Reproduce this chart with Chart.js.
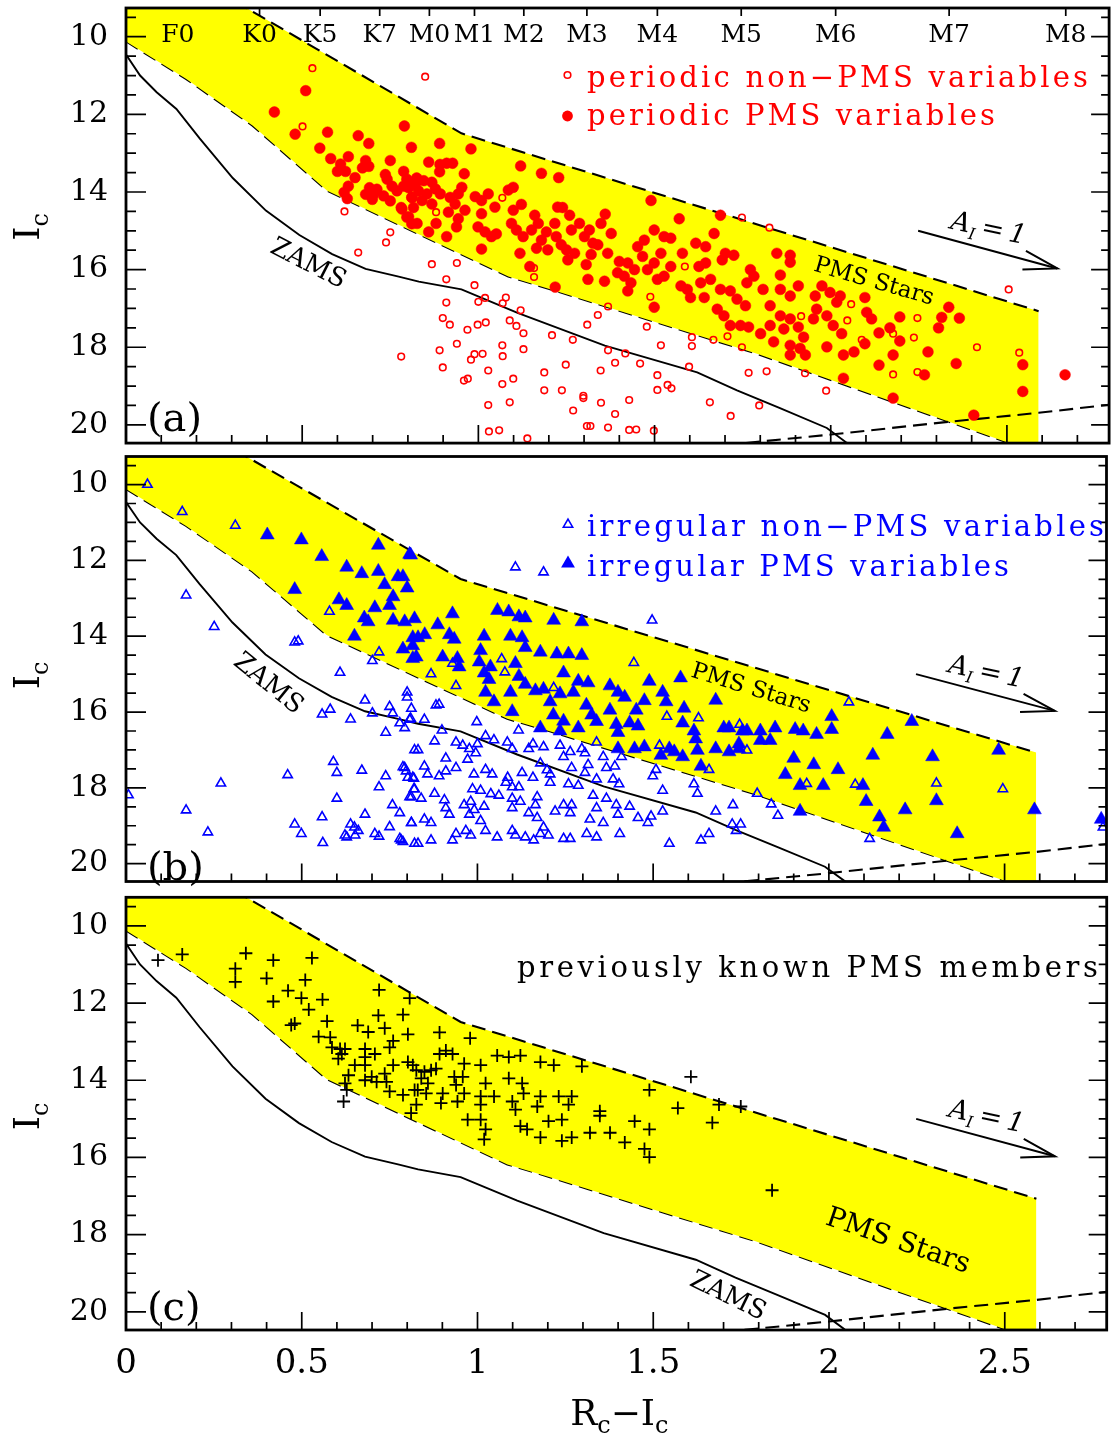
<!DOCTYPE html>
<html>
<head>
<meta charset="utf-8">
<script src="https://cdn.jsdelivr.net/npm/chart.js@4.4.1/dist/chart.umd.min.js"></script>
<style>
  body { margin: 0; background: #fff; }
  #wrap { position: relative; width: 1115px; height: 1437px; overflow: hidden; }
  canvas { position: absolute; left: 0; }
</style>
</head>
<body>
<div id="wrap">
  <canvas id="chart_a" width="1115" height="449" style="top:0px"></canvas>
  <canvas id="chart_b" width="1115" height="442" style="top:448px"></canvas>
  <canvas id="chart_c" width="1115" height="548" style="top:889px"></canvas>
</div>
<script>
// ---- axes ----
const xTickValues = [0, 0.5, 1, 1.5, 2, 2.5];
const xTickLabels = ['0', '0.5', '1', '1.5', '2', '2.5'];
const yTickValues = [10, 12, 14, 16, 18, 20];
const spectralTypes = ['F0', 'K0', 'K5', 'K7', 'M0', 'M1', 'M2', 'M3', 'M4', 'M5', 'M6', 'M7', 'M8'];
const spectralColours = [0.147, 0.379, 0.551, 0.720, 0.861, 0.989, 1.129, 1.308, 1.508, 1.746, 2.014, 2.336, 2.667];

// ---- curves (R-I, Ic) ----
const zams = [[0, 10.46], [0.04, 11.0], [0.087, 11.43], [0.143, 11.86], [0.209, 12.62], [0.303, 13.64], [0.397, 14.48],
  [0.492, 15.11], [0.585, 15.6], [0.68, 15.98], [0.774, 16.18], [0.831, 16.31], [0.952, 16.51], [1.113, 17.12],
  [1.359, 17.96], [1.621, 18.65], [1.734, 19.11], [1.856, 19.57], [1.989, 20.08], [2.045, 20.46], [2.12, 20.8]];
const bandUpper = [[0, 7.45], [0.952, 12.49], [2.59, 17.07]];
const bandLower = [[0, 10.12], [0.171, 11.09], [0.359, 12.29], [0.571, 13.97], [0.831, 15.09], [1.085, 16.18],
  [1.206, 16.51], [1.791, 18.17], [2.336, 19.92], [2.59, 20.74]];
const limitLine = [[1.70, 20.52], [2.0, 20.25], [2.336, 19.92], [2.59, 19.69], [2.79, 19.48]];
const reddeningLine = [[2.248, 15.0], [2.643, 15.97]];
const reddeningHead = [[2.554, 15.52], [2.643, 15.97], [2.544, 16.0]];

// ---- (a) periodic variables ----
const periodicNonPms = [[0.529,10.81],[0.501,12.31],[0.620,14.50],[0.750,15.04],[0.738,15.30],[0.659,15.56],[0.781,18.24],
  [0.849,11.03],[0.880,14.52],[1.068,14.15],[0.868,15.86],[0.939,15.83],[0.909,16.25],[0.989,16.40],[1.158,15.96],[1.158,16.19],
  [0.909,16.85],[1.000,16.83],[1.019,16.73],[1.078,16.72],[1.069,16.87],[1.120,17.05],[0.899,17.25],[0.919,17.42],[0.969,17.55],
  [0.998,17.42],[1.021,17.36],[1.089,17.31],[1.108,17.45],[1.128,17.64],[0.939,17.91],[0.890,18.08],[0.989,18.18],[1.012,18.17],
  [0.979,18.32],[1.068,17.95],[1.069,18.23],[1.128,18.05],[0.899,18.52],[1.028,18.60],[0.959,18.86],[0.970,18.81],[1.068,18.95],
  [1.099,18.81],[1.187,18.65],[1.187,19.11],[1.237,19.11],[1.089,19.42],[1.028,19.49],[1.030,20.17],[1.059,20.14],[1.139,20.35],
  [1.209,17.69],[1.268,17.81],[1.248,18.45],[1.269,19.63],[1.298,19.25],[1.298,19.31],[1.309,17.42],[1.339,17.17],[1.368,16.95],
  [1.368,18.08],[1.347,18.60],[1.388,18.40],[1.417,18.16],[1.348,19.43],[1.388,19.72],[1.308,20.03],[1.318,20.03],[1.368,20.07],
  [1.428,19.36],[1.428,20.13],[1.448,20.12],[1.459,18.42],[1.478,17.47],[1.488,16.70],[1.508,18.72],[1.508,19.10],[1.537,18.97],
  [1.548,19.06],[1.518,17.95],[1.498,20.15],[1.586,15.92],[1.606,17.74],[1.606,17.97],[1.598,18.50],[1.667,17.81],[1.707,17.72],
  [1.657,19.42],[1.716,19.77],[1.748,14.66],[1.748,18.00],[1.767,18.66],[1.826,14.92],[1.818,18.62],[1.927,18.67],[1.797,19.50],
  [1.987,19.12],[1.916,17.20],[2.058,16.89],[2.047,17.31],[2.088,17.81],[2.177,17.65],[2.177,18.70],[2.246,17.25],[2.236,17.75],
  [2.246,18.64],[2.415,18.00],[2.505,16.51],[2.535,18.14]];
const periodicPms = [[0.421,11.94],[0.510,11.39],[0.480,12.51],[0.572,12.46],[0.550,12.87],[0.581,13.14],[0.631,13.09],[0.659,12.55],
  [0.689,12.75],[0.609,13.28],[0.600,13.47],[0.623,13.47],[0.650,13.63],[0.631,13.85],[0.619,14.01],[0.628,14.17],[0.680,13.19],
  [0.671,13.38],[0.689,13.34],[0.680,14.06],[0.691,13.89],[0.703,14.06],[0.712,13.93],[0.699,14.19],[0.750,13.19],[0.736,13.55],
  [0.741,13.67],[0.790,12.30],[0.810,12.85],[0.788,13.47],[0.797,13.67],[0.755,13.85],[0.769,13.97],[0.731,14.10],[0.750,14.23],
  [0.781,14.40],[0.788,13.85],[0.802,13.89],[0.811,14.14],[0.816,14.40],[0.797,14.65],[0.811,14.82],[0.821,13.81],[0.825,13.64],
  [0.890,12.75],[0.979,12.89],[0.859,13.23],[0.891,13.29],[0.910,13.26],[0.927,13.26],[0.890,13.48],[0.960,13.53],[0.826,13.69],
  [0.845,13.71],[0.868,13.75],[0.878,13.92],[0.830,13.97],[0.854,14.05],[0.812,14.14],[0.840,14.22],[0.868,14.31],[0.892,14.05],
  [0.920,14.14],[0.953,13.88],[0.943,14.05],[0.934,14.31],[0.962,14.47],[0.915,14.52],[0.943,14.69],[0.938,14.90],[0.783,14.44],
  [0.802,14.64],[0.826,14.81],[0.859,15.03],[0.910,15.15],[0.880,14.81],[0.991,14.12],[1.009,14.22],[1.028,14.05],[1.047,14.39],
  [1.009,14.56],[0.999,14.90],[1.019,15.03],[1.037,15.15],[1.051,15.08],[1.009,15.47],[1.085,13.95],[1.099,13.88],[1.120,13.33],
  [1.179,13.52],[1.228,13.63],[1.099,14.47],[1.122,14.32],[1.094,14.81],[1.108,14.98],[1.127,15.15],[1.118,15.58],[1.151,14.98],
  [1.146,15.92],[1.160,14.60],[1.170,14.81],[1.165,15.45],[1.179,15.24],[1.197,15.49],[1.193,15.03],[1.217,14.81],[1.225,14.39],
  [1.239,14.40],[1.221,15.15],[1.235,15.36],[1.259,14.60],[1.264,14.98],[1.250,15.49],[1.254,15.75],[1.273,15.58],[1.287,14.81],
  [1.301,15.15],[1.315,14.98],[1.325,15.32],[1.306,15.87],[1.320,15.61],[1.339,15.36],[1.348,14.81],[1.360,14.57],[1.377,15.07],
  [1.367,15.58],[1.358,16.30],[1.311,16.25],[1.218,16.45],[1.400,15.79],[1.395,16.08],[1.424,15.83],[1.414,16.17],[1.433,16.34],
  [1.424,16.55],[1.443,16.00],[1.452,15.41],[1.471,15.24],[1.466,15.66],[1.490,14.22],[1.499,14.98],[1.480,16.00],[1.499,15.83],
  [1.518,15.58],[1.527,15.15],[1.546,15.19],[1.508,16.25],[1.527,16.17],[1.499,16.97],[1.546,15.92],[1.570,14.69],[1.579,15.58],
  [1.575,16.42],[1.593,16.51],[1.602,16.72],[1.617,15.32],[1.626,15.92],[1.631,16.34],[1.645,15.41],[1.645,15.83],[1.641,16.72],
  [1.659,16.25],[1.669,15.07],[1.678,17.02],[1.687,14.60],[1.692,15.75],[1.701,15.58],[1.725,15.63],[1.687,16.51],[1.715,16.55],
  [1.697,17.19],[1.715,17.44],[1.734,16.76],[1.744,17.44],[1.767,17.48],[1.762,16.34],[1.772,16.00],[1.758,16.93],
  [1.847,15.58],[1.885,15.63],[1.885,15.81],[1.857,16.14],[1.782,16.17],[1.808,16.51],[1.857,16.51],[1.885,16.68],[1.908,16.42],
  [1.828,16.93],[1.857,17.19],[1.885,17.27],[1.908,17.48],[1.867,17.53],[1.828,17.44],[1.801,17.65],[1.838,17.86],[1.885,17.95],
  [1.913,18.03],[1.923,17.74],[1.885,18.20],[1.928,18.20],[1.956,16.68],[1.960,17.02],[1.975,16.42],[1.951,17.27],[1.989,17.19],
  [1.998,16.59],[2.017,16.84],[2.027,16.68],[2.007,17.44],[2.031,17.65],[1.989,17.99],[2.036,18.20],[2.036,18.80],[2.066,18.12],
  [2.097,16.72],[2.102,17.10],[2.097,17.91],[2.116,17.27],[2.137,17.63],[2.168,17.50],[2.177,18.20],[2.196,17.22],[2.196,17.84],
  [2.137,18.46],[2.177,19.31],[2.266,18.71],[2.276,18.12],[2.306,17.50],[2.315,17.23],[2.335,16.97],[2.365,17.25],[2.356,18.42],
  [2.406,19.75],[2.545,18.45],[2.545,19.14],[2.665,18.71]];

// ---- (b) irregular variables ----
const irregularNonPms = [[0.061,10.00],[0.160,10.72],[0.311,11.08],[0.171,12.92],[0.251,13.75],[0.007,18.19],[0.171,18.59],
  [0.233,19.17],[0.270,17.88],[0.460,17.66],[0.480,14.16],[0.490,14.13],[0.579,13.35],[0.720,14.42],[0.701,14.65],[0.609,14.96],
  [0.558,16.06],[0.581,15.93],[0.639,16.19],[0.680,15.69],[0.701,16.03],[0.750,15.86],[0.759,16.03],[0.800,15.48],[0.800,15.61],
  [0.812,15.91],[0.807,16.20],[0.779,16.29],[0.793,16.42],[0.739,16.54],[0.821,17.00],[0.590,17.31],[0.600,17.60],[0.671,17.54],
  [0.739,17.69],[0.788,17.45],[0.797,17.56],[0.802,17.73],[0.819,17.75],[0.720,17.98],[0.600,18.28],[0.819,18.03],[0.807,18.24],
  [0.758,18.45],[0.779,18.66],[0.680,18.70],[0.558,18.77],[0.480,18.96],[0.499,19.21],[0.560,19.45],[0.623,19.25],[0.639,18.96],
  [0.650,19.04],[0.661,19.13],[0.628,19.30],[0.652,19.25],[0.708,19.21],[0.720,19.28],[0.750,19.03],[0.812,18.92],[0.779,19.34],
  [0.788,19.42],[0.821,19.47],
  [1.108,12.18],[1.188,12.31],[1.497,13.58],[1.445,14.70],[1.069,14.60],[1.078,14.95],[0.929,14.72],[0.868,15.00],[0.939,15.31],
  [1.217,15.36],[0.882,15.82],[0.891,15.80],[0.810,16.17],[0.849,16.20],[0.998,16.26],[0.899,16.48],[1.023,16.63],[1.047,16.74],
  [1.117,16.48],[0.878,16.77],[0.939,16.80],[0.958,16.88],[0.977,16.97],[1.000,16.84],[0.972,17.25],[0.831,17.00],[0.910,17.22],
  [0.939,17.47],[0.995,17.08],[1.085,16.80],[1.099,16.97],[1.146,16.97],[1.158,16.84],[1.188,16.92],[1.235,16.88],[1.264,17.05],
  [1.297,16.97],[1.306,17.08],[1.339,16.80],[1.358,17.18],[1.410,17.18],[1.179,17.35],[1.198,17.53],[1.245,17.18],[1.268,17.47],
  [1.315,17.39],[1.306,17.60],[1.367,17.47],[1.391,17.43],[1.386,17.77],[1.403,17.90],[1.339,17.77],[1.287,17.94],[1.259,17.90],
  [1.207,17.64],[1.207,17.86],[0.793,17.47],[0.816,17.73],[0.849,17.43],[0.858,17.64],[0.891,17.69],[0.910,17.56],[0.990,17.64],
  [1.023,17.52],[1.042,17.64],[1.086,17.73],[1.081,17.86],[1.127,17.60],[1.158,17.73],[1.099,17.98],[1.118,17.98],[1.038,18.16],
  [1.009,18.07],[0.986,18.03],[0.821,18.03],[0.840,18.28],[0.878,18.15],[0.812,18.24],[0.906,18.32],[0.962,18.45],[0.981,18.36],
  [1.019,18.49],[1.061,18.20],[1.099,18.28],[1.122,18.36],[1.170,18.24],[1.165,18.45],[1.146,18.66],[1.221,18.62],[1.245,18.45],
  [1.268,18.45],[1.264,18.66],[1.329,18.20],[1.367,18.28],[1.339,18.53],[1.395,18.45],[1.400,18.70],[1.433,18.49],[1.457,18.79],
  [1.494,18.75],[1.485,18.92],[1.527,18.62],[1.616,17.90],[1.626,18.15],[1.508,17.52],[1.499,17.69],[1.527,18.07],[1.659,17.52],
  [1.629,16.16],[1.539,16.12],[1.518,16.88],[1.678,18.62],[1.727,18.45],[1.725,18.96],[1.749,18.96],[1.736,19.13],[1.659,19.21],
  [1.636,19.38],[1.546,19.47],[1.405,19.21],[1.358,18.92],[1.311,19.21],[1.339,19.30],[1.320,18.83],[1.188,19.04],[1.179,19.21],
  [1.202,19.25],[1.160,19.38],[1.136,19.30],[1.108,19.25],[1.099,19.13],[1.056,19.30],[1.023,19.13],[0.981,19.25],[0.967,19.13],
  [0.939,19.21],[0.929,19.38],[0.868,19.38],[0.831,19.47],[0.783,19.38],[0.812,18.92],[0.849,18.83],[0.868,18.92],[0.910,18.53],
  [0.920,18.70],[0.991,18.58],[0.977,18.70],[1.009,18.87],[1.245,19.34],[1.264,19.34],[1.099,18.53],[1.170,18.79],
  [2.057,15.74],[1.746,16.33],[1.767,17.01],[1.796,18.15],[1.836,18.43],[1.855,18.73],[1.937,17.89],[2.075,17.91],[2.116,19.34],
  [2.306,17.88],[2.495,18.03],[2.780,19.04]];
const irregularPms = [[0.402,11.33],[0.499,11.46],[0.557,11.90],[0.480,12.77],[0.718,11.60],[0.628,12.18],[0.671,12.35],[0.718,12.29],
  [0.736,12.64],[0.774,12.43],[0.788,12.43],[0.800,12.73],[0.810,11.86],[0.760,12.96],[0.750,13.19],[0.708,13.25],[0.606,13.04],
  [0.628,13.19],[0.678,13.52],[0.689,13.62],[0.760,13.58],[0.793,13.62],[0.650,14.00],[0.816,14.04],[0.788,14.34],[0.816,14.25],
  [0.816,14.59],
  [0.807,11.84],[0.929,13.41],[1.057,13.32],[1.089,13.36],[1.118,13.49],[1.136,13.52],[1.217,13.58],[1.297,13.62],[0.821,13.54],
  [0.887,13.70],[0.831,14.04],[0.850,13.96],[0.826,14.55],[0.920,13.96],[0.934,14.08],[0.901,14.55],[0.943,14.59],[0.948,14.81],
  [1.019,14.00],[1.009,14.38],[1.005,14.68],[1.019,14.97],[1.037,14.81],[1.033,15.14],[1.023,15.48],[1.047,15.73],[1.094,14.00],
  [1.127,14.04],[1.136,14.30],[1.108,14.72],[1.118,15.06],[1.094,15.48],[1.099,15.99],[1.136,15.27],[1.179,14.42],[1.165,15.44],
  [1.188,15.40],[1.226,14.47],[1.259,14.47],[1.297,14.51],[1.245,14.97],[1.235,15.52],[1.273,15.48],[1.287,15.19],[1.315,15.23],
  [1.207,15.73],[1.216,16.08],[1.245,16.24],[1.235,16.50],[1.179,16.42],[1.287,16.42],[1.310,15.82],[1.325,16.08],[1.339,16.25],
  [1.377,15.95],[1.377,15.31],[1.400,15.48],[1.419,15.61],[1.395,16.33],[1.400,16.54],[1.433,16.29],[1.452,15.95],[1.457,16.37],
  [1.475,15.70],[1.489,15.19],[1.527,15.48],[1.537,15.73],[1.578,15.10],[1.588,15.90],[1.584,16.29],[1.616,16.50],[1.621,16.71],
  [1.560,17.05],[1.584,17.18],[1.626,17.01],[1.678,15.69],[1.701,16.42],[1.716,16.42],[1.754,16.50],[1.678,16.97],[1.716,17.05],
  [1.744,16.97],[1.636,17.43],[1.546,16.97],[1.522,17.14],[1.475,16.92],[1.447,16.97],[1.400,16.97],
  [2.008,16.12],[2.008,16.46],[1.965,16.59],[1.927,16.50],[1.904,16.46],[1.847,16.42],[1.805,16.50],[1.767,16.50],[1.805,16.75],
  [1.833,16.75],[1.744,16.84],[1.900,17.22],[1.957,17.39],[1.876,17.65],[2.026,17.52],[1.918,17.94],[1.984,17.94],[2.097,17.94],
  [2.125,17.14],[2.166,16.59],[2.236,16.25],[2.295,17.18],[2.483,17.01],[2.106,18.36],[2.306,18.34],[2.217,18.58],[2.144,18.77],
  [2.156,19.04],[1.918,18.62],[2.365,19.21],[2.585,18.58],[2.775,18.83]];

// ---- (c) previously known members ----
const knownPms = [[0.091,10.89],[0.160,10.74],[0.341,10.71],[0.311,11.11],[0.311,11.45],[0.419,10.89],[0.400,11.36],[0.419,11.96],
  [0.529,10.83],[0.510,11.40],[0.461,11.68],[0.499,11.87],[0.520,12.17],[0.559,11.91],[0.572,12.47],[0.470,12.57],[0.480,12.53],
  [0.548,12.87],[0.581,12.89],[0.586,13.15],[0.659,12.58],[0.689,12.75],[0.720,11.66],[0.718,12.32],[0.736,12.65],[0.760,12.98],
  [0.750,13.15],[0.788,12.30],[0.807,11.87],[0.802,12.81],[0.609,13.19],[0.623,13.19],[0.614,13.32],[0.604,13.44],[0.651,13.61],
  [0.680,13.19],[0.680,13.40],[0.708,13.32],[0.680,13.61],[0.633,13.87],[0.623,14.08],[0.628,14.25],[0.619,14.55],[0.680,14.00],
  [0.699,13.91],[0.713,14.04],[0.741,14.04],[0.736,13.83],[0.760,13.61],[0.750,14.29],[0.788,14.38],[0.802,13.53],[0.816,13.61],
  [0.821,14.25],[0.811,14.85],
  [0.892,12.76],[0.979,12.91],[0.892,13.32],[0.910,13.23],[0.929,13.32],[0.962,13.57],[1.009,13.61],[0.958,13.91],[0.826,13.74],
  [0.849,13.78],[0.868,13.74],[0.882,13.70],[0.840,13.95],[0.859,14.08],[0.830,14.25],[0.854,14.34],[0.826,14.63],[0.901,14.34],
  [0.896,14.59],[0.934,13.91],[0.939,14.12],[0.943,14.55],[0.962,14.34],[0.972,15.02],[1.009,14.42],[1.009,14.63],[1.023,14.08],
  [1.047,14.42],[1.009,15.02],[1.023,15.27],[1.019,15.53],[1.056,13.36],[1.089,13.40],[1.122,13.36],[1.089,13.95],[1.127,14.08],
  [1.131,14.34],[1.099,14.55],[1.108,14.76],[1.122,15.19],[1.141,15.27],[1.179,13.53],[1.217,13.61],[1.297,13.64],[1.179,14.42],
  [1.170,14.68],[1.231,14.42],[1.268,14.42],[1.259,14.63],[1.202,15.06],[1.240,15.02],[1.179,15.48],[1.240,15.57],[1.268,15.48],
  [1.320,15.36],[1.377,15.36],[1.419,15.61],[1.348,14.80],[1.348,14.92],[1.447,15.06],[1.489,14.25],[1.489,15.27],[1.475,15.78],
  [1.489,15.99],[1.570,14.72],[1.607,13.91],[1.668,15.10],[1.687,14.63],[1.749,14.68],[1.838,16.85]];

const SERIF = '"DejaVu Serif", "Liberation Serif", serif';
function font(size, italic) { return (italic ? 'italic ' : '') + size + 'px ' + SERIF; }
function xy(arr) { return arr.map(p => ({ x: p[0], y: p[1] })); }

/* --- text helpers --- */
function spacedText(ctx, text, x, y, width) {
  const chars = Array.from(text);
  const natural = ctx.measureText(text).width;
  const extra = chars.length > 1 ? (width - natural) / (chars.length - 1) : 0;
  let cx = x;
  chars.forEach(ch => { ctx.fillText(ch, cx, y); cx += ctx.measureText(ch).width + extra; });
}
// parts: [text, size, dy, italic]
function drawParts(ctx, parts, x, y) {
  let w = 0;
  parts.forEach(p => { ctx.font = font(p[1], p[3]); w += ctx.measureText(p[0]).width; });
  let cx = x - w / 2;
  ctx.textAlign = 'left';
  parts.forEach(p => { ctx.font = font(p[1], p[3]); ctx.fillText(p[0], cx, y + p[2]); cx += ctx.measureText(p[0]).width; });
}
function rotParts(ctx, parts, x, y, deg) {
  ctx.save();
  ctx.translate(x, y);
  ctx.rotate(deg * Math.PI / 180);
  drawParts(ctx, parts, 0, parts[0][1] * 0.36);
  ctx.restore();
}
function triangle(ctx, x, y, r, filled) {
  ctx.beginPath();
  ctx.moveTo(x, y - r);
  ctx.lineTo(x + 0.866 * r, y + 0.5 * r);
  ctx.lineTo(x - 0.866 * r, y + 0.5 * r);
  ctx.closePath();
  if (filled) ctx.fill(); else ctx.stroke();
}

/* --- frame with inward ticks --- */
function framePlugin(topTicks) {
  return {
    id: 'frame',
    afterDatasetsDraw(chart) {
      const { ctx, chartArea: a, scales: { x, y } } = chart;
      ctx.save();
      ctx.strokeStyle = '#000';
      ctx.lineWidth = 1.7;
      ctx.beginPath();
      for (let i = 19; i <= 41; i++) {
        const v = i / 2;
        const py = y.getPixelForValue(v);
        if (py < a.top + 1 || py > a.bottom - 1) continue;
        const major = i % 4 === 0;
        ctx.moveTo(a.left, py); ctx.lineTo(a.left + (major ? 20 : 10), py);
        ctx.moveTo(a.right, py); ctx.lineTo(a.right - (major ? 18 : 8), py);
      }
      for (let i = 1; i < 28; i++) {
        const px = x.getPixelForValue(i / 10);
        ctx.moveTo(px, a.bottom); ctx.lineTo(px, a.bottom - (i % 5 === 0 ? 18 : 8));
      }
      if (topTicks) {
        spectralColours.forEach((v, i) => {
          if (i === 0) return;
          const px = x.getPixelForValue(v);
          ctx.moveTo(px, a.top); ctx.lineTo(px, a.top + 8);
        });
      }
      ctx.stroke();
      ctx.lineWidth = 2.8;
      ctx.strokeRect(a.left, a.top, a.right - a.left, a.bottom - a.top);
      ctx.restore();
    }
  };
}

/* --- shared curves --- */
function sharedLines() {
  const dash = [14, 7];
  return [
    { type: 'line', data: xy(reddeningLine), borderColor: '#000', borderWidth: 2, pointRadius: 0, order: 3 },
    { type: 'line', data: xy(reddeningHead), borderColor: '#000', borderWidth: 2, pointRadius: 0, order: 3 },
    { type: 'line', data: xy(zams), borderColor: '#000', borderWidth: 1.9, pointRadius: 0, order: 4 },
    { type: 'line', data: xy(limitLine), borderColor: '#000', borderWidth: 2.1, borderDash: dash, pointRadius: 0, order: 4 },
    { type: 'line', data: xy(bandUpper), borderColor: '#000', borderWidth: 2.1, borderDash: dash, pointRadius: 0,
      backgroundColor: '#ffff00', fill: '+1', order: 8 },
    { type: 'line', data: xy(bandLower), borderColor: '#000', borderWidth: 2.1, borderDash: dash, pointRadius: 0,
      fill: false, order: 8 }
  ];
}

function scatterSet(data, style, colour, radius, filled, width, order) {
  return {
    data: xy(data), pointStyle: style, pointRadius: radius, pointBorderWidth: width,
    pointBorderColor: colour, pointBackgroundColor: filled ? colour : 'rgba(0,0,0,0)', order: order, clip: 0
  };
}

function commonLabels(chart, letter, zamsLab, pmsLab) {
  const { ctx, chartArea: a, scales: { x, y } } = chart;
  ctx.save();
  ctx.fillStyle = '#000';
  ctx.strokeStyle = '#000';
  ctx.textBaseline = 'alphabetic';
  ctx.textAlign = 'left';
  ctx.font = font(40);
  ctx.fillText(letter, a.left + 21, a.top + 423);
  ctx.save();
  ctx.translate(39, a.top + 219);
  ctx.rotate(-Math.PI / 2);
  drawParts(ctx, [['I', 36, 0], ['c', 24, 9]], 0, 0);
  ctx.restore();
  rotParts(ctx, [['A', 27, 0, true], ['I', 16, 6, true], ['\u2009=\u2009', 27, 0], ['1', 27, 0, true]],
    x.getPixelForValue(2.449), y.getPixelForValue(14.9), 12);
  rotParts(ctx, [['ZAMS', zamsLab[3], 0]], x.getPixelForValue(zamsLab[0]), y.getPixelForValue(zamsLab[1]), zamsLab[2]);
  rotParts(ctx, [['PMS Stars', pmsLab[3], 0]], x.getPixelForValue(pmsLab[0]), y.getPixelForValue(pmsLab[1]), pmsLab[2]);
  ctx.restore();
}

function makePanel(id, points, padding, showX, topTicks, labels) {
  return new Chart(document.getElementById(id), {
    type: 'scatter',
    data: { datasets: points.concat(sharedLines()) },
    options: {
      responsive: false,
      animation: false,
      events: [],
      layout: { padding: padding },
      plugins: { legend: { display: false }, tooltip: { enabled: false } },
      scales: {
        x: {
          type: 'linear', min: 0, max: 2.79, display: showX,
          afterBuildTicks: s => { s.ticks = xTickValues.map(v => ({ value: v })); },
          afterFit: s => { s.height = showX ? 107 : 0; s.paddingLeft = 0; s.paddingRight = 0; },
          grid: { display: false, drawTicks: false }, border: { display: false },
          ticks: { padding: 14, color: '#000', autoSkip: false, maxRotation: 0,
            font: { family: SERIF, size: 34 }, callback: (v, i) => xTickLabels[i] }
        },
        y: {
          type: 'linear', min: 9.26, max: 20.47, reverse: true,
          afterBuildTicks: s => { s.ticks = yTickValues.map(v => ({ value: v })); },
          afterFit: s => { s.width = 126; s.paddingTop = 0; s.paddingBottom = 0; },
          grid: { display: false, drawTicks: false }, border: { display: false },
          ticks: { padding: 18, color: '#000', autoSkip: false,
            font: { family: SERIF, size: 30 }, callback: v => String(v) }
        }
      }
    },
    plugins: [framePlugin(topTicks), { id: 'labels', afterDraw: labels }]
  });
}

/* --- panel (a) --- */
makePanel('chart_a', [
  scatterSet(periodicNonPms, 'circle', '#ff0000', 3.3, false, 1.6, 0),
  scatterSet(periodicPms, 'circle', '#ff0000', 5.4, true, 0.5, 1)
], { left: 0, right: 2, top: 8, bottom: 1 }, false, true, chart => {
  const { ctx, chartArea: a, scales: { x } } = chart;
  commonLabels(chart, '(a)', [0.520, 15.80, 27, 26], [2.124, 16.26, 16, 23]);
  ctx.save();
  ctx.fillStyle = '#000';
  ctx.font = font(25);
  ctx.textAlign = 'center';
  spectralTypes.forEach((t, i) => ctx.fillText(t, x.getPixelForValue(spectralColours[i]), a.top + 34));
  ctx.fillStyle = '#ff0000';
  ctx.strokeStyle = '#ff0000';
  ctx.textAlign = 'left';
  ctx.font = font(29);
  spacedText(ctx, 'periodic non\u2212PMS variables', 587, a.top + 79, 501);
  spacedText(ctx, 'periodic PMS variables', 587, a.top + 117, 408);
  ctx.lineWidth = 1.6;
  ctx.beginPath(); ctx.arc(567.5, a.top + 67, 3.3, 0, Math.PI * 2); ctx.stroke();
  ctx.beginPath(); ctx.arc(567.5, a.top + 108, 5.4, 0, Math.PI * 2); ctx.fill();
  ctx.restore();
});

/* --- panel (b) --- */
makePanel('chart_b', [
  scatterSet(irregularNonPms, 'triangle', '#0000ff', 5.4, false, 1.6, 0),
  scatterSet(irregularPms, 'triangle', '#0000ff', 8, true, 0.5, 1)
], { left: 0, right: 2, top: 1, bottom: 2 }, false, false, chart => {
  const { ctx, chartArea: a } = chart;
  commonLabels(chart, '(b)', [0.409, 15.21, 39, 26], [1.780, 15.33, 17, 23]);
  ctx.save();
  ctx.fillStyle = '#0000ff';
  ctx.strokeStyle = '#0000ff';
  ctx.textAlign = 'left';
  ctx.font = font(29);
  spacedText(ctx, 'irregular non\u2212PMS variables', 587, a.top + 79, 517);
  spacedText(ctx, 'irregular PMS variables', 587, a.top + 119, 422);
  ctx.lineWidth = 1.6;
  triangle(ctx, 568, a.top + 68, 5.4, false);
  triangle(ctx, 568, a.top + 107, 8, true);
  ctx.restore();
});

/* --- panel (c) --- */
makePanel('chart_c', [
  scatterSet(knownPms, 'cross', '#000', 6.5, false, 1.8, 0)
], { left: 0, right: 2, top: 1, bottom: 0 }, true, false, chart => {
  const { ctx, chartArea: a } = chart;
  commonLabels(chart, '(c)', [1.715, 19.54, 26, 26], [2.198, 18.11, 19, 28]);
  ctx.save();
  ctx.fillStyle = '#000';
  ctx.textAlign = 'left';
  ctx.font = font(29);
  spacedText(ctx, 'previously known PMS members', 517, a.top + 80, 581);
  drawParts(ctx, [['R', 36, 0], ['c', 24, 8], ['\u2212', 36, 0], ['I', 36, 0], ['c', 24, 8]],
    (a.left + a.right) / 2 + 3, a.bottom + 95);
  ctx.restore();
});
</script>
</body>
</html>
